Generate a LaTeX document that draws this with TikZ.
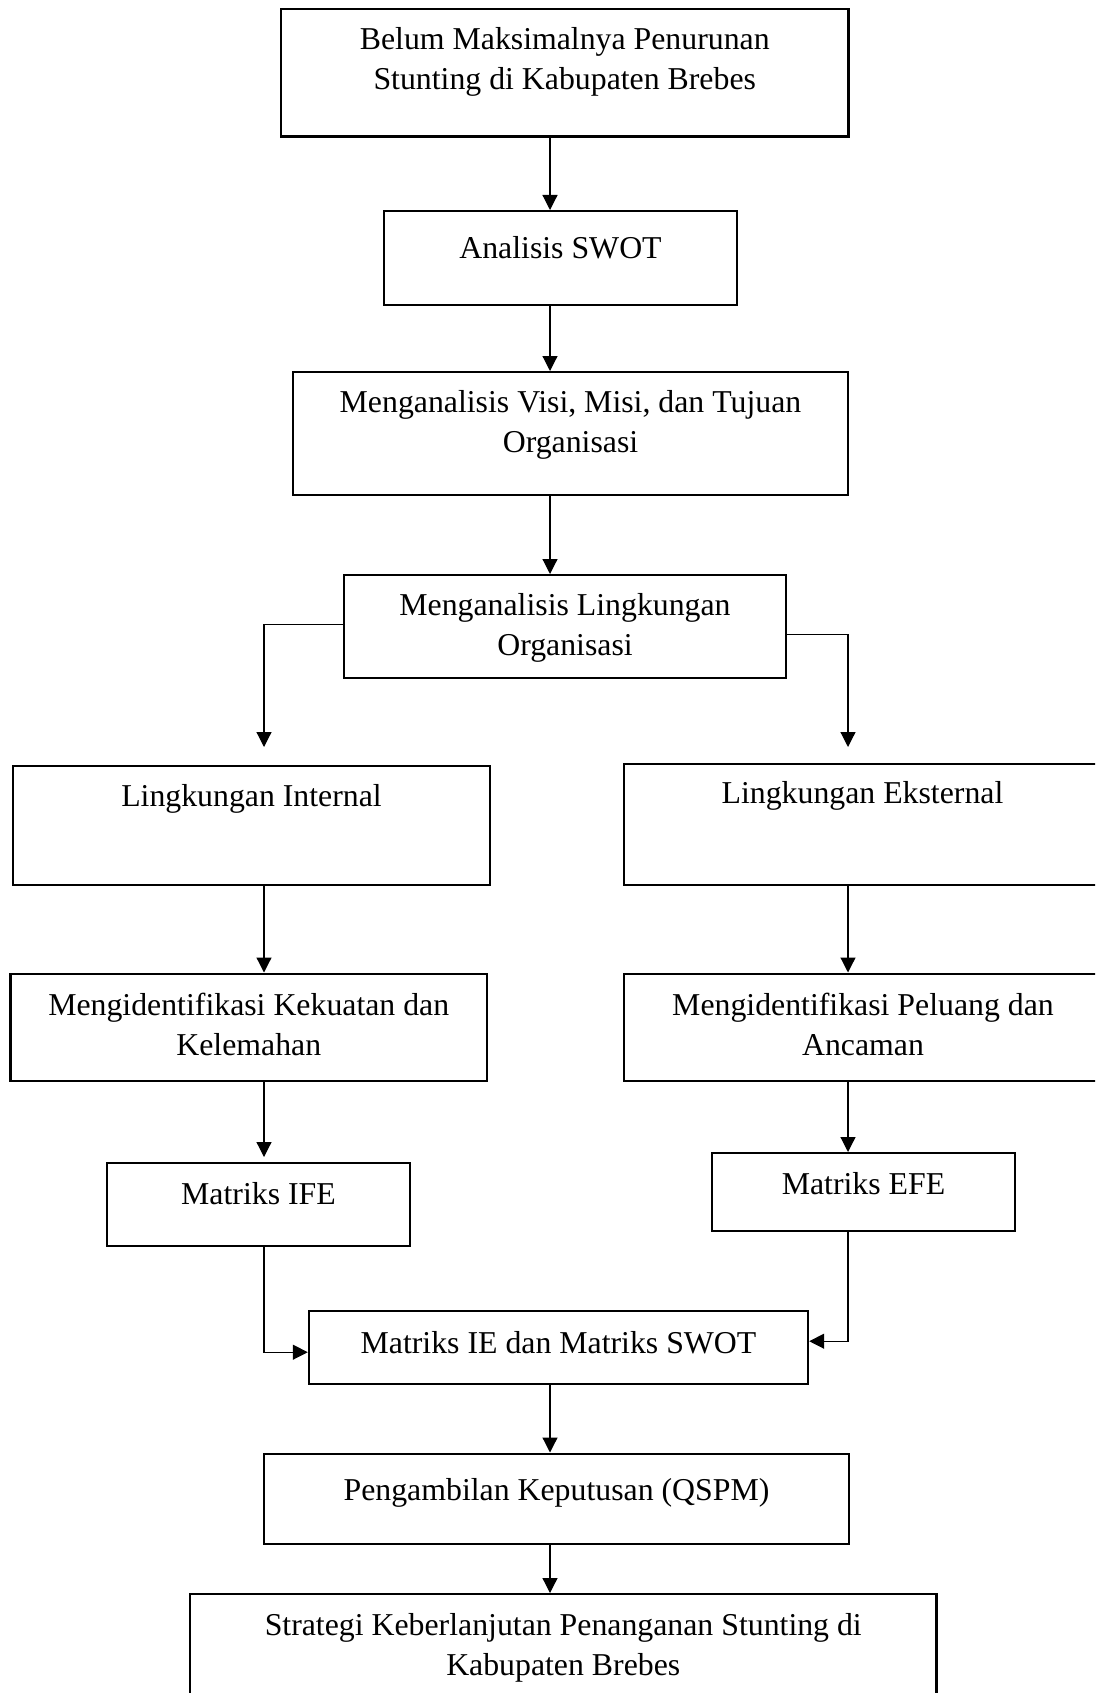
\documentclass[tikz,border=0pt]{standalone}
\usepackage{fontspec}
\setmainfont{Liberation Serif}
\usetikzlibrary{arrows.meta}
\tikzset{
  box/.style={draw, line width=2.4pt, rectangle, inner sep=0pt, align=center, anchor=north,
    font=\fontsize{31.8}{39.8}\selectfont},
  arr/.style={line width=1.2pt, -{Triangle[length=15pt,width=15pt]}},
}
\begin{document}
\begin{tikzpicture}[x=1pt,y=-1pt]
\useasboundingbox (0,0) rectangle (1095,1693);
\clip (0,0) rectangle (1095,1693);
\fill[white] (0,0) rectangle (1095,1693);
\coordinate (cM) at (550,0);
\coordinate (cL) at (264,0);
\coordinate (cR) at (848,0);

\node[box, minimum width=567.5pt, text height=80.3pt, text depth=47.2pt] (n1) at (564.75,8)
  {Belum Maksimalnya Penurunan\\Stunting di Kabupaten Brebes};
\node[box, minimum width=353pt, text height=47pt, text depth=47pt] (n2) at (560.5,210)
  {Analisis SWOT};
\node[box, minimum width=555pt, text height=80pt, text depth=43pt] (n3) at (570.5,371)
  {Menganalisis Visi, Misi, dan Tujuan\\Organisasi};
\node[box, minimum width=442pt, text height=80pt, text depth=23pt] (n4) at (565,574)
  {Menganalisis Lingkungan\\Organisasi};
\node[box, minimum width=477pt, text height=40pt, text depth=79pt] (n5) at (251.5,765)
  {Lingkungan Internal};
\node[box, minimum width=477pt, text height=39.5pt, text depth=82pt] (n6) at (862.5,762.5)
  {Lingkungan Eksternal};
\node[box, minimum width=476.5pt, text height=81.5pt, text depth=26pt] (n7) at (248.75,972.5)
  {Mengidentifikasi Kekuatan dan\\Kelemahan};
\node[box, minimum width=478pt, text height=81.5pt, text depth=26pt] (n8) at (863,972.5)
  {Mengidentifikasi Peluang dan\\Ancaman};
\node[box, minimum width=303pt, text height=41pt, text depth=42pt] (n9) at (258.5,1162)
  {Matriks IFE};
\node[box, minimum width=303pt, text height=41pt, text depth=37pt] (n10) at (863.5,1152)
  {Matriks EFE};
\node[box, minimum width=499pt, text height=42pt, text depth=31pt] (n11) at (558.5,1310)
  {Matriks IE dan Matriks SWOT};
\node[box, minimum width=585pt, text height=46.5pt, text depth=44pt] (n12) at (556.5,1452.5)
  {Pengambilan Keputusan (QSPM)};
\node[box, minimum width=746.5pt, text height=81pt, text depth=50pt] (n13) at (563.25,1593)
  {Strategi Keberlanjutan Penanganan Stunting di\\Kabupaten Brebes};

\draw[arr] (n1.south -| cM) -- (n2.north -| cM);
\draw[arr] (n2.south -| cM) -- (n3.north -| cM);
\draw[arr] (n3.south -| cM) -- (n4.north -| cM);
\draw[arr, shorten >=18pt] ([yshift=2.5pt]n4.west) -| (n5.north -| cL);
\draw[arr, shorten >=15.5pt] ([yshift=-7.5pt]n4.east) -| (n6.north -| cR);
\draw[arr] (n5.south -| cL) -- (n7.north -| cL);
\draw[arr] (n6.south -| cR) -- (n8.north -| cR);
\draw[arr, shorten >=5pt] (n7.south -| cL) -- (n9.north -| cL);
\draw[arr] (n8.south -| cR) -- (n10.north -| cR);
\draw[arr] (n9.south -| cL) |- ([yshift=-4.5pt]n11.west);
\draw[arr] (n10.south -| cR) |- ([yshift=6.5pt]n11.east);
\draw[arr] (n11.south -| cM) -- (n12.north -| cM);
\draw[arr] (n12.south -| cM) -- (n13.north -| cM);
\end{tikzpicture}
\end{document}
